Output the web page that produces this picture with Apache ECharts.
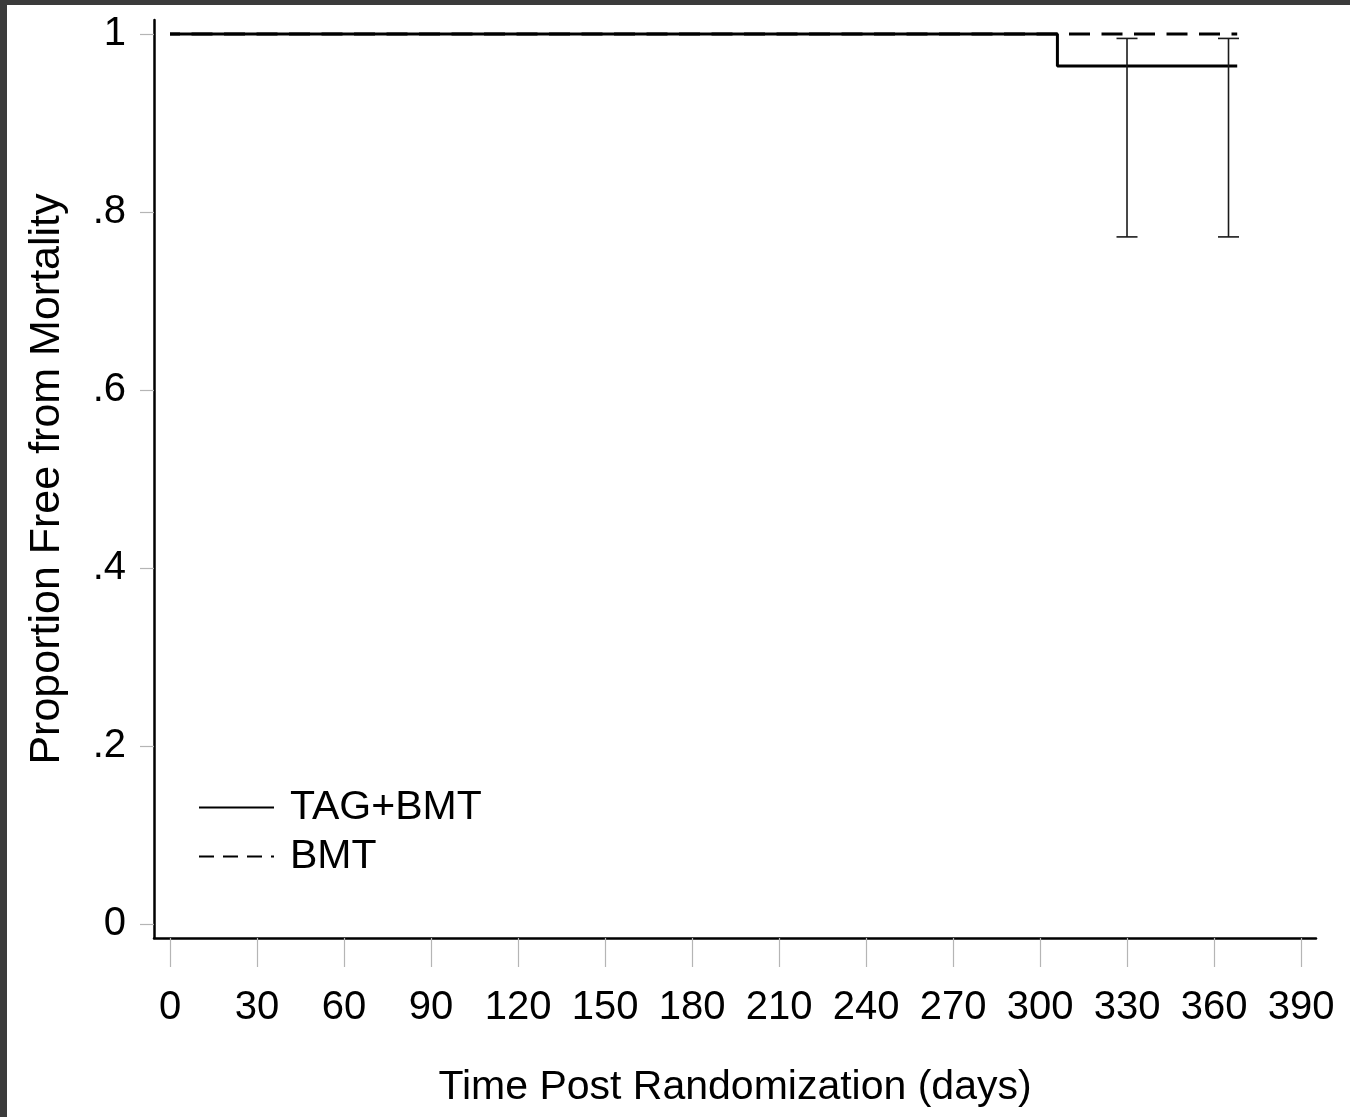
<!DOCTYPE html>
<html>
<head>
<meta charset="utf-8">
<script src="https://cdn.jsdelivr.net/npm/echarts@6/dist/echarts.min.js"></script>
<style>
  html, body { margin: 0; padding: 0; width: 1350px; height: 1117px; background: #3b3b3b; overflow: hidden; }
  #chart { position: absolute; left: 7px; top: 5px; width: 1343px; height: 1112px; background: #ffffff; }
</style>
</head>
<body>
<div id="chart"></div>
<script>
// ---- data ----
const seriesNames = ['TAG+BMT', 'BMT'];
// Kaplan-Meier step points [day, proportion]
const tagBmt = [[0, 1], [306, 1], [306, 0.964], [368, 0.964]];
const bmt = [[0, 1], [368, 1]];
// confidence interval bars [day, lower, upper]
const ciBars = [[330, 0.772, 0.995], [365, 0.772, 0.995]];
// ticks
const xTicks = [0, 30, 60, 90, 120, 150, 180, 210, 240, 270, 300, 330, 360, 390];
const yTicks = [0, 0.2, 0.4, 0.6, 0.8, 1];
const yTickLabels = ['0', '.2', '.4', '.6', '.8', '1'];

const FONT = "'Liberation Sans', Arial, Helvetica, sans-serif";
const chart = echarts.init(document.getElementById('chart'), null, { renderer: 'canvas' });

const hiddenDot = { color: 'rgba(0,0,0,0)', borderWidth: 0, borderColor: 'rgba(0,0,0,0)' };

chart.setOption({
  animation: false,
  backgroundColor: '#ffffff',
  textStyle: { fontFamily: FONT, color: '#000' },
  grid: { left: 147, top: 15, width: 1162, height: 918, containLabel: false },
  xAxis: {
    type: 'value',
    min: -5.52, max: 395.17,
    name: 'Time Post Randomization (days)',
    nameLocation: 'middle',
    nameGap: 129,
    nameTextStyle: { fontSize: 41, fontFamily: FONT, color: '#000' },
    axisLine: { show: true, onZero: false, lineStyle: { color: '#000', width: 2.5 } },
    axisTick: { show: true, inside: false, length: 29, customValues: xTicks, lineStyle: { color: '#b5b5b5', width: 1.2 } },
    axisLabel: { customValues: xTicks, fontSize: 40, fontFamily: FONT, color: '#000', margin: 50, hideOverlap: false, showMinLabel: true, showMaxLabel: true },
    splitLine: { show: false }
  },
  yAxis: {
    type: 'value',
    min: -0.0157, max: 1.0157,
    name: 'Proportion Free from Mortality',
    nameLocation: 'middle',
    nameGap: 85,
    nameRotate: 90,
    nameTextStyle: { fontSize: 43, fontFamily: FONT, color: '#000' },
    axisLine: { show: true, onZero: false, lineStyle: { color: '#000', width: 2.5 } },
    axisTick: { show: true, inside: false, length: 14, customValues: yTicks, lineStyle: { color: '#b5b5b5', width: 1.2 } },
    axisLabel: {
      customValues: yTicks, fontSize: 40, fontFamily: FONT, color: '#000', margin: 28,
      formatter: function (v) {
        for (let i = 0; i < yTicks.length; i++) {
          if (Math.abs(yTicks[i] - v) < 1e-6) return yTickLabels[i];
        }
        return '';
      }
    },
    splitLine: { show: false }
  },
  legend: {
    orient: 'vertical',
    left: 186,
    top: 777,
    itemWidth: 75,
    itemHeight: 14,
    itemGap: 8,
    textStyle: { fontSize: 41, fontFamily: FONT, color: '#000', padding: [0, 0, 0, 11] },
    data: [
      { name: seriesNames[0], itemStyle: hiddenDot, lineStyle: { width: 2, type: 'solid', color: '#000', dashOffset: 0 } },
      { name: seriesNames[1], itemStyle: hiddenDot, lineStyle: { width: 2, type: [15, 9], color: '#000', dashOffset: 0 } }
    ]
  },
  series: [
    {
      name: seriesNames[1],
      type: 'line',
      data: bmt,
      symbol: 'none',
      z: 2,
      lineStyle: { color: '#000', width: 3, type: [21, 11.5], dashOffset: 11 },
      itemStyle: { color: '#000' }
    },
    {
      name: seriesNames[0],
      type: 'line',
      data: tagBmt,
      symbol: 'none',
      z: 3,
      lineStyle: { color: '#000', width: 3, type: 'solid' },
      itemStyle: { color: '#000' }
    },
    {
      name: 'CI',
      type: 'custom',
      data: ciBars,
      z: 4,
      renderItem: function (params, api) {
        const x = api.value(0);
        const lo = api.coord([x, api.value(1)]);
        const hi = api.coord([x, api.value(2)]);
        const hw = 10.5;
        const style = { stroke: '#1a1a1a', lineWidth: 1.6, fill: null };
        return {
          type: 'group',
          children: [
            { type: 'line', shape: { x1: lo[0], y1: lo[1], x2: hi[0], y2: hi[1] }, style: style },
            { type: 'line', shape: { x1: hi[0] - hw, y1: hi[1], x2: hi[0] + hw, y2: hi[1] }, style: style },
            { type: 'line', shape: { x1: lo[0] - hw, y1: lo[1], x2: lo[0] + hw, y2: lo[1] }, style: style }
          ]
        };
      }
    }
  ]
});
</script>
</body>
</html>
